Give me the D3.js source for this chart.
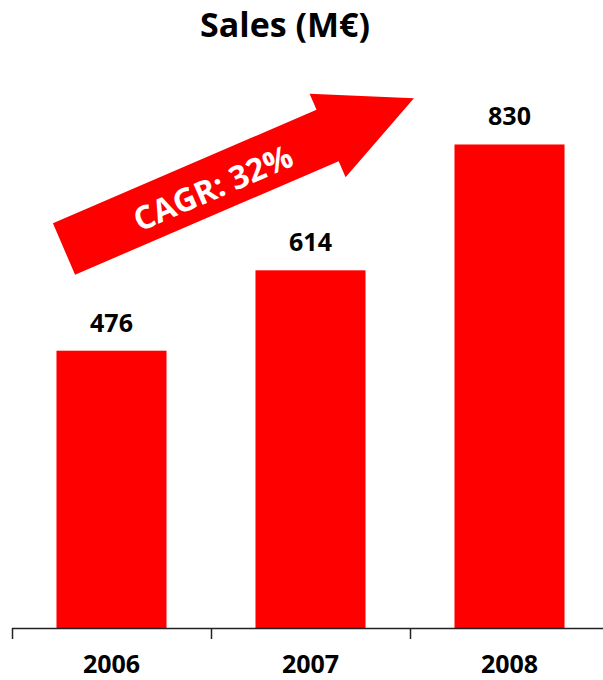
<!DOCTYPE html>
<html>
<head>
<meta charset="utf-8">
<script src="https://cdn.jsdelivr.net/npm/d3@7"></script>
<style>
  body { margin: 0; background: #fff; }
  text { font-family: "Open Sans", "DejaVu Sans", sans-serif; font-weight: 700; }
</style>
</head>
<body>
<svg class="chart"></svg>
<script>
var years = ["2006", "2007", "2008"];
var sales = [476, 614, 830];
var title = "Sales (M€)";
var cagrLabel = "CAGR: 32%";

var width = 603,
    height = 680,
    baseline = 628;

var red = "#ff0000";

var x = d3.scaleBand()
    .domain(years)
    .range([12, 609])
    .padding(0);
var y = d3.scaleLinear()
    .domain([0, 1078])
    .range([baseline, 0]);

var barW = x.bandwidth() * 0.553;

var chart = d3.select(".chart")
    .attr("width", width)
    .attr("height", height);

chart.append("text")
    .attr("x", 285)
    .attr("y", 37)
    .attr("text-anchor", "middle")
    .attr("font-size", 34)
    .attr("fill", "#000")
    .text(title);

var data = years.map(function(d, i) { return {name: d, value: sales[i]}; });

var bar = chart.selectAll("g.bar")
    .data(data)
  .enter().append("g")
    .attr("class", "bar")
    .attr("transform", function(d) { return "translate(" + (x(d.name) + x.bandwidth() / 2) + ",0)"; });

bar.append("rect")
    .attr("x", -barW / 2)
    .attr("y", function(d) { return y(d.value); })
    .attr("height", function(d) { return baseline - y(d.value); })
    .attr("width", barW)
    .attr("fill", red);

bar.append("text")
    .attr("y", function(d) { return y(d.value) - 19; })
    .attr("text-anchor", "middle")
    .attr("font-size", 25)
    .attr("fill", "#000")
    .text(function(d) { return d.value; });

// axis: line + ticks at band edges, labels centred
var axis = chart.append("g");
axis.append("line")
    .attr("x1", 12).attr("x2", width)
    .attr("y1", baseline + 0.5).attr("y2", baseline + 0.5)
    .attr("stroke", "#222").attr("stroke-width", 1.5);

axis.selectAll("line.tick")
    .data(years)
  .enter().append("line")
    .attr("class", "tick")
    .attr("x1", function(d) { return x(d) + 0.5; })
    .attr("x2", function(d) { return x(d) + 0.5; })
    .attr("y1", baseline)
    .attr("y2", baseline + 11)
    .attr("stroke", "#222").attr("stroke-width", 1.5);

axis.selectAll("text")
    .data(years)
  .enter().append("text")
    .attr("x", function(d) { return x(d) + x.bandwidth() / 2; })
    .attr("y", 673)
    .attr("text-anchor", "middle")
    .attr("font-size", 25)
    .attr("fill", "#000")
    .text(function(d) { return d; });

// CAGR arrow
var arrow = chart.append("g")
    .attr("transform", "translate(64,249) rotate(-23.3)");

var len = 381, headLen = 94, shaftH = 28, headH = 45.5;
arrow.append("path")
    .attr("d", d3.line()([
      [0, -shaftH], [len - headLen, -shaftH], [len - headLen, -headH],
      [len, 0], [len - headLen, headH], [len - headLen, shaftH], [0, shaftH]
    ]) + "Z")
    .attr("fill", red);

arrow.append("text")
    .attr("x", 161)
    .attr("y", 3)
    .attr("dy", "0.35em")
    .attr("text-anchor", "middle")
    .attr("font-size", 32)
    .attr("fill", "#fff")
    .text(cagrLabel);
</script>
</body>
</html>
